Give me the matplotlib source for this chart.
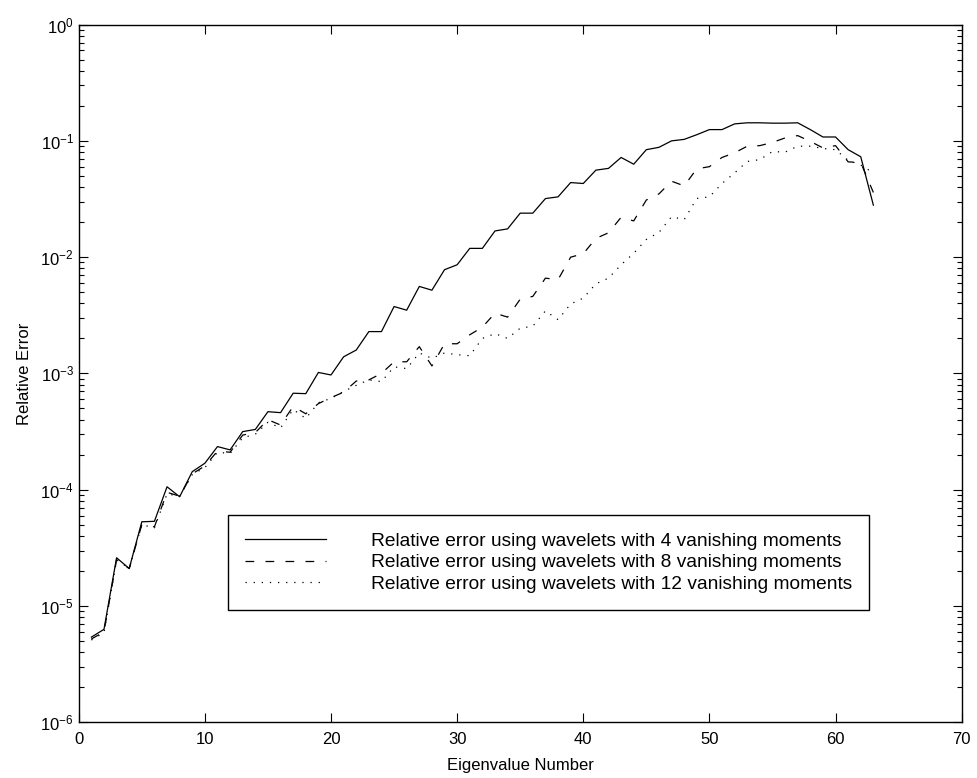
import matplotlib
matplotlib.use("Agg")
import matplotlib.pyplot as plt
import numpy as np
from matplotlib.ticker import LogLocator, NullFormatter

plt.rcParams['font.family'] = ['Liberation Sans', 'DejaVu Sans']
plt.rcParams['mathtext.default'] = 'regular'

eig = list(range(1, 64))

err4 = [5.4e-6, 6.3e-6, 2.6e-5, 2.1e-5, 5.3e-5, 5.35e-5, 1.06e-4, 8.7e-5, 1.43e-4, 1.69e-4,
        2.35e-4, 2.2e-4, 3.16e-4, 3.3e-4, 4.69e-4, 4.6e-4, 6.76e-4, 6.7e-4, 1.02e-3, 9.7e-4,
        1.39e-3, 1.59e-3, 2.29e-3, 2.29e-3, 3.76e-3, 3.5e-3, 5.6e-3, 5.2e-3, 7.8e-3, 8.6e-3,
        1.19e-2, 1.19e-2, 1.68e-2, 1.75e-2, 2.39e-2, 2.39e-2, 3.19e-2, 3.3e-2, 4.38e-2, 4.3e-2,
        5.6e-2, 5.8e-2, 7.2e-2, 6.3e-2, 8.4e-2, 8.8e-2, 1.0e-1, 1.03e-1, 1.13e-1, 1.25e-1,
        1.25e-1, 1.4e-1, 1.43e-1, 1.43e-1, 1.42e-1, 1.42e-1, 1.43e-1, 1.25e-1, 1.08e-1, 1.08e-1,
        8.4e-2, 7.3e-2, 2.8e-2]

err8 = [5.2e-6, 6.0e-6, 2.5e-5, 2.1e-5, 5.0e-5, 4.8e-5, 9.5e-5, 8.8e-5, 1.37e-4, 1.6e-4,
        2.15e-4, 2.1e-4, 2.95e-4, 3.1e-4, 4.0e-4, 3.6e-4, 5.2e-4, 4.5e-4, 5.5e-4, 6.2e-4,
        6.9e-4, 8.6e-4, 8.8e-4, 1.0e-3, 1.26e-3, 1.26e-3, 1.7e-3, 1.16e-3, 1.8e-3, 1.8e-3,
        2.15e-3, 2.5e-3, 3.3e-3, 3.05e-3, 4.35e-3, 4.6e-3, 6.6e-3, 6.4e-3, 1.0e-2, 1.07e-2,
        1.45e-2, 1.62e-2, 2.2e-2, 2.05e-2, 3.1e-2, 3.5e-2, 4.5e-2, 4.1e-2, 5.75e-2, 6.0e-2,
        7.2e-2, 7.9e-2, 9.0e-2, 9.1e-2, 9.7e-2, 1.06e-1, 1.11e-1, 9.9e-2, 8.7e-2, 9.1e-2,
        6.6e-2, 6.5e-2, 3.6e-2]

err12 = [5.1e-6, 5.9e-6, 2.5e-5, 2.1e-5, 5.0e-5, 4.7e-5, 9.2e-5, 8.8e-5, 1.35e-4, 1.55e-4,
         2.1e-4, 2.05e-4, 2.8e-4, 3.0e-4, 3.8e-4, 3.4e-4, 4.9e-4, 4.1e-4, 5.6e-4, 6.1e-4,
         7.0e-4, 7.9e-4, 8.8e-4, 8.5e-4, 1.14e-3, 1.1e-3, 1.5e-3, 1.35e-3, 1.5e-3, 1.45e-3,
         1.42e-3, 2.0e-3, 2.2e-3, 2.0e-3, 2.45e-3, 2.55e-3, 3.45e-3, 2.9e-3, 3.96e-3, 4.44e-3,
         5.9e-3, 6.6e-3, 8.6e-3, 1.08e-2, 1.42e-2, 1.63e-2, 2.23e-2, 2.1e-2, 3.2e-2, 3.3e-2,
         4.3e-2, 5.3e-2, 6.65e-2, 6.9e-2, 8.1e-2, 8.0e-2, 9.0e-2, 9.0e-2, 8.6e-2, 8.4e-2,
         6.8e-2, 6.2e-2, 5.3e-2]

labels = ["Relative error using wavelets with 4 vanishing moments",
          "Relative error using wavelets with 8 vanishing moments",
          "Relative error using wavelets with 12 vanishing moments"]

fig = plt.figure(figsize=(9.77, 7.78), dpi=100)
ax = fig.add_axes([0.0806, 0.0716, 0.9037, 0.8968])

ax.plot(eig, err4, color='black', lw=0.9, linestyle='-', label=labels[0])
ax.plot(eig, err8, color='black', lw=0.9, linestyle=(0, (7, 9)), label=labels[1])
ax.plot(eig, err12, color='black', lw=0.9, linestyle=(0, (1, 5.5)), label=labels[2])

ax.set_yscale('log')
ax.set_xlim(0, 70)
ax.set_ylim(1e-6, 1e0)
ax.set_xticks(range(0, 71, 10))
ax.yaxis.set_major_locator(LogLocator(base=10, numticks=10))
ax.yaxis.set_minor_locator(LogLocator(base=10, subs=np.arange(2, 10), numticks=100))
ax.yaxis.set_minor_formatter(NullFormatter())

ax.tick_params(which='both', direction='in', top=True, right=True, labelsize=12)
ax.tick_params(which='major', length=6.5, width=0.8)
ax.tick_params(which='minor', length=3.5, width=0.8)
ax.tick_params(axis='x', pad=7)
for s in ax.spines.values():
    s.set_linewidth(1.0)

ax.set_xlabel("Eigenvalue Number", fontsize=12, labelpad=8)
ax.set_ylabel("Relative Error", fontsize=12, labelpad=6)

leg = ax.legend(loc='upper left', bbox_to_anchor=(0.169, 0.297), borderaxespad=0,
                fontsize=13.8, handlelength=4.2, handletextpad=2.35, labelspacing=0.22,
                borderpad=0.9, fancybox=False, edgecolor='black', framealpha=1,
                alignment='left')
leg.get_frame().set_linewidth(1.0)

fig.savefig("out.png", dpi=100)
